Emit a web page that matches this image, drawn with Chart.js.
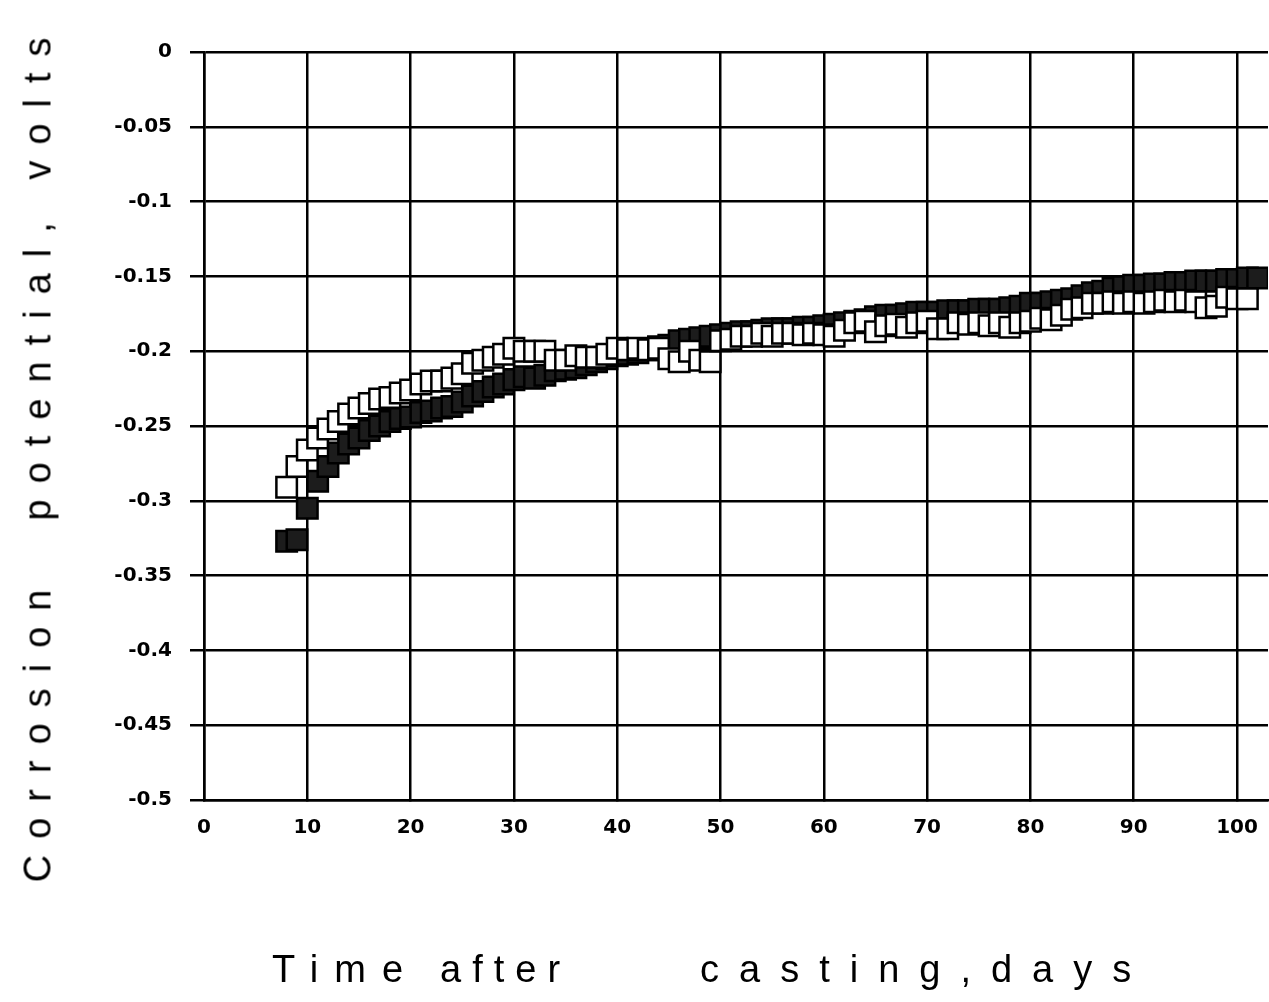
<!DOCTYPE html>
<html>
<head>
<meta charset="utf-8">
<script src="https://cdn.jsdelivr.net/npm/chart.js@4.4.1/dist/chart.umd.min.js"></script>
<style>
  html, body { margin:0; padding:0; background:#fff; }
  #wrap { position:relative; width:1269px; height:1002px; }
  #chart { position:absolute; left:0; top:0; }
  .ttl { position:absolute; font-family:"Liberation Sans", Arial, sans-serif; color:#000; white-space:pre; font-size:38px; }
  #ttl-x { left:0; top:948px; width:1269px; height:50px; }
  #ttl-x span { position:absolute; top:0; }
  #ttl-y { left:38px; top:452px; letter-spacing:16px;
           transform:translate(-50%,-50%) rotate(-90deg); }
</style>
</head>
<body>
<div id="wrap">
  <canvas id="chart" width="1269" height="1002"></canvas>
  <div class="ttl" id="ttl-x"><span style="left:272px;letter-spacing:16px">Time</span> <span style="left:440px;letter-spacing:11px">after</span> <span style="left:700px;letter-spacing:20px">casting,days</span></div>
  <div class="ttl" id="ttl-y">Corrosion  potential, volts</div>
</div>
<script>
// dias de medicion
const days = [8,9,10,11,12,13,14,15,16,17,18,19,20,21,22,23,24,25,26,27,28,29,30,
  31,32,33,34,35,36,37,38,39,40,41,42,43,44,45,46,47,48,49,50,51,52,53,54,55,56,57,58,59,60,
  61,62,63,64,65,66,67,68,69,70,71,72,73,74,75,76,77,78,79,80,81,82,83,84,85,86,87,88,89,90,
  91,92,93,94,95,96,97,98,99,100,101,102];

// potencial (V) - cuadros abiertos
const openV = [-0.291,-0.277,-0.266,-0.258,-0.252,-0.247,-0.242,-0.238,-0.235,-0.232,-0.231,-0.228,-0.226,
  -0.222,-0.220,-0.220,-0.218,-0.215,-0.208,-0.206,-0.204,-0.202,-0.198,-0.200,-0.200,-0.200,-0.206,-0.206,
  -0.203,-0.204,-0.204,-0.202,-0.198,-0.199,-0.198,-0.199,-0.198,-0.205,-0.207,-0.200,-0.206,-0.207,-0.193,
  -0.192,-0.190,-0.190,-0.188,-0.190,-0.188,-0.188,-0.189,-0.188,-0.189,-0.190,-0.186,-0.181,-0.180,-0.187,
  -0.183,-0.182,-0.184,-0.181,-0.180,-0.185,-0.185,-0.181,-0.182,-0.181,-0.183,-0.181,-0.184,-0.181,-0.180,
  -0.178,-0.179,-0.176,-0.172,-0.171,-0.168,-0.168,-0.167,-0.168,-0.167,-0.168,-0.167,-0.166,-0.167,-0.166,
  -0.167,-0.171,-0.170,-0.164,-0.165,-0.165];

// potencial (V) - cuadros rellenos
const filledV = [-0.327,-0.326,-0.305,-0.287,-0.277,-0.268,-0.262,-0.258,-0.253,-0.250,-0.247,-0.245,-0.244,
  -0.241,-0.240,-0.238,-0.237,-0.234,-0.230,-0.227,-0.224,-0.222,-0.219,-0.217,-0.218,-0.216,-0.213,-0.212,
  -0.211,-0.209,-0.207,-0.205,-0.203,-0.202,-0.201,-0.199,-0.197,-0.196,-0.193,-0.192,-0.191,-0.190,-0.189,
  -0.188,-0.187,-0.187,-0.186,-0.185,-0.185,-0.185,-0.184,-0.184,-0.183,-0.182,-0.181,-0.180,-0.179,-0.177,
  -0.176,-0.176,-0.175,-0.174,-0.174,-0.174,-0.173,-0.173,-0.173,-0.172,-0.172,-0.172,-0.171,-0.170,-0.168,
  -0.168,-0.167,-0.166,-0.165,-0.163,-0.161,-0.160,-0.158,-0.157,-0.156,-0.156,-0.155,-0.155,-0.154,-0.154,
  -0.153,-0.153,-0.153,-0.152,-0.152,-0.151,-0.151];

const xTicks = [0,10,20,30,40,50,60,70,80,90,100];
const yTicks = [0,-0.05,-0.1,-0.15,-0.2,-0.25,-0.3,-0.35,-0.4,-0.45,-0.5];

const pts = (xs, ys) => ys.map((y,i)=>({x:xs[i], y}));
const tickFont = { family:'"DejaVu Sans", sans-serif', size:20, weight:'bold' };

new Chart(document.getElementById('chart').getContext('2d'), {
  type:'scatter',
  data:{ datasets:[
    { label:'abierto', data:pts(days, openV), pointStyle:'rect', pointRadius:14.5,
      backgroundColor:'#fff', borderColor:'#000', borderWidth:2.5 },
    { label:'relleno', data:pts(days, filledV), pointStyle:'rect', pointRadius:14.5,
      backgroundColor:'#1c1c1c', borderColor:'#000', borderWidth:2.5 }
  ]},
  options:{
    responsive:false, animation:false,
    layout:{ autoPadding:false, padding:{ top:52, right:1, left:0, bottom:0 } },
    plugins:{ legend:{display:false}, tooltip:{enabled:false} },
    scales:{
      x:{ type:'linear', min:0, max:103,
        afterBuildTicks:(s)=>{ s.ticks = xTicks.map(v=>({value:v})); },
        afterFit:(s)=>{ s.height = 202; s.paddingLeft = 0; s.paddingRight = 0; },
        grid:{ color:'#000', lineWidth:2.5, tickLength:0 },
        border:{ color:'#000', width:2.5 },
        ticks:{ color:'#000', font:tickFont, padding:16, maxRotation:0 } },
      y:{ type:'linear', min:-0.5, max:0,
        afterBuildTicks:(s)=>{ s.ticks = yTicks.map(v=>({value:v})); },
        afterFit:(s)=>{ s.width = 204; },
        grid:{ color:'#000', lineWidth:2.5, tickLength:14 },
        border:{ color:'#000', width:2.5 },
        ticks:{ color:'#000', font:tickFont, padding:18,
          callback:(v)=>String(+(+v).toFixed(2)) } }
    }
  }
});
</script>
</body>
</html>
